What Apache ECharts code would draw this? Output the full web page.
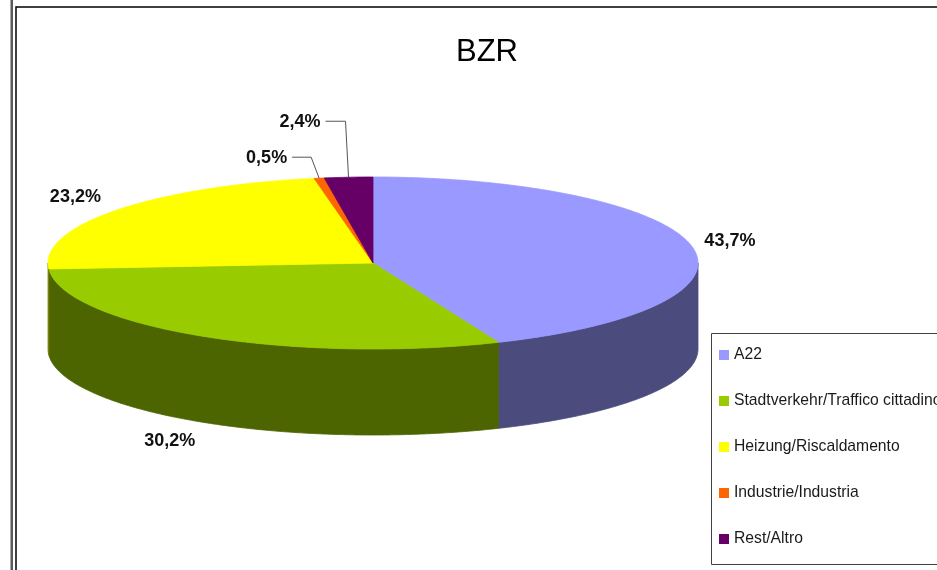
<!DOCTYPE html>
<html>
<head>
<meta charset="utf-8">
<title>BZR</title>
<script src="https://cdn.jsdelivr.net/npm/echarts@6/dist/echarts.min.js"></script>
<style>
  html, body { margin: 0; padding: 0; background: #fff; }
  #chart { width: 937px; height: 570px; }
</style>
</head>
<body>
<div id="chart"></div>
<script>
/* 数据 */
var categories = ['A22', 'Stadtverkehr/Traffico cittadino', 'Heizung/Riscaldamento', 'Industrie/Industria', 'Rest/Altro'];
var values = [43.7, 30.2, 23.2, 0.5, 2.4];

/* 颜色 */
var topColors = ['#9999FF', '#99CC00', '#FFFF00', '#FF6600', '#660066'];
var sideColors = ['#4B4B7E', '#4C6500', '#808000', '#803300', '#330033'];

/* 饼图几何 (像素) */
var cx = 373, cy = 263, rx = 325, ry = 86, depth = 86;
// 标签微调 [dx, dy]，小扇区用引导线 [斜移, 上升, 横线长]
var labelNudge = [[0, -3], [-12, 10], [-10, -7], [0, 0], [0, 0]];
var leaderShape = [null, null, null, [-8, 21, 19], [-3, 56, 20]];
var FONT = 'Liberation Sans, Arial, sans-serif';

var total = values.reduce(function (s, v) { return s + v; }, 0);
var starts = [];
var acc = 0;
values.forEach(function (v) { starts.push(acc); acc += v; });

function pt(a, dy) {
  return [cx + rx * Math.sin(a), cy - ry * Math.cos(a) + (dy || 0)];
}
function arc(a0, a1, dy) {
  var n = Math.max(2, Math.ceil((a1 - a0) / 0.01));
  var p = [];
  for (var k = 0; k <= n; k++) p.push(pt(a0 + (a1 - a0) * k / n, dy));
  return p;
}

function renderSlice(params, api) {
  var i = params.seriesIndex;
  var s = api.value(0), v = api.value(1);
  var a0 = s / total * 2 * Math.PI, a1 = (s + v) / total * 2 * Math.PI;
  var kids = [];
  /* 侧面 (只画朝前的部分) */
  var w0 = Math.max(a0, Math.PI / 2), w1 = Math.min(a1, 1.5 * Math.PI);
  if (w1 > w0) {
    var up = arc(w0, w1, 0), lo = arc(w0, w1, depth).reverse();
    kids.push({ type: 'polygon', shape: { points: up.concat(lo) },
      style: { fill: sideColors[i], stroke: sideColors[i], lineWidth: 0.8 } });
  }
  /* 顶面 */
  kids.push({ type: 'polygon', shape: { points: [[cx, cy]].concat(arc(a0, a1, 0)) },
    style: { fill: topColors[i], stroke: topColors[i], lineWidth: 0.8 } });

  /* 标签 */
  var mid = (a0 + a1) / 2;
  var txt = v.toFixed(1).replace('.', ',') + '%';
  var lx, ly, align = 'center';
  var ld = leaderShape[i];
  if (ld) {
    var p0 = pt(mid, 0);
    var p1 = [p0[0] + ld[0], p0[1] - ld[1]];
    var p2 = [p1[0] - ld[2], p1[1]];
    kids.push({ type: 'polyline', shape: { points: [p0, p1, p2] },
      style: { stroke: '#555', lineWidth: 1, fill: null } });
    lx = p2[0] - 5; ly = p2[1] + 1; align = 'right';
  } else {
    var q = [cx + rx * 1.12 * Math.sin(mid), cy - ry * 1.12 * Math.cos(mid)];
    if (Math.cos(mid) < 0) q[1] += depth;
    lx = q[0] + labelNudge[i][0]; ly = q[1] + labelNudge[i][1];
  }
  kids.push({ type: 'text', style: { text: txt, x: lx, y: ly, align: align, verticalAlign: 'middle',
    fontSize: 18, fontWeight: 'bold', fontFamily: FONT, fill: '#111' } });
  return { type: 'group', children: kids };
}

var myChart = echarts.init(document.getElementById('chart'));
var option = {
  animation: false,
  backgroundColor: '#fff',
  title: {
    text: 'BZR',
    left: 451,
    top: 32,
    textStyle: { fontSize: 31, fontWeight: 'normal', fontFamily: FONT, color: '#000' }
  },
  legend: {
    orient: 'vertical',
    left: 714,
    top: 342,
    icon: 'rect',
    itemWidth: 10,
    itemHeight: 10,
    itemGap: 30,
    selectedMode: false,
    data: categories,
    textStyle: { fontSize: 15.7, fontFamily: FONT, color: '#1a1a1a' }
  },
  graphic: [
    // 外框
    { type: 'rect', shape: { x: 10.5, y: 0, width: 2.5, height: 570 }, style: { fill: '#5a5a5a' }, z: 10 },
    { type: 'rect', shape: { x: 16, y: 7, width: 940, height: 580 }, style: { fill: null, stroke: '#000', lineWidth: 1.5 }, z: 10 },
    // 图例框
    { type: 'rect', shape: { x: 711.5, y: 333.5, width: 300, height: 231 }, style: { fill: null, stroke: '#404040', lineWidth: 1 }, z: 10 }
  ],
  series: categories.map(function (name, i) {
    return {
      type: 'custom',
      name: name,
      coordinateSystem: 'none',
      silent: true,
      itemStyle: { color: topColors[i] },
      renderItem: renderSlice,
      data: [[starts[i], values[i]]]
    };
  })
};
myChart.setOption(option);
window.addEventListener('resize', function () {
  myChart.resize();
});
</script>
</body>
</html>
